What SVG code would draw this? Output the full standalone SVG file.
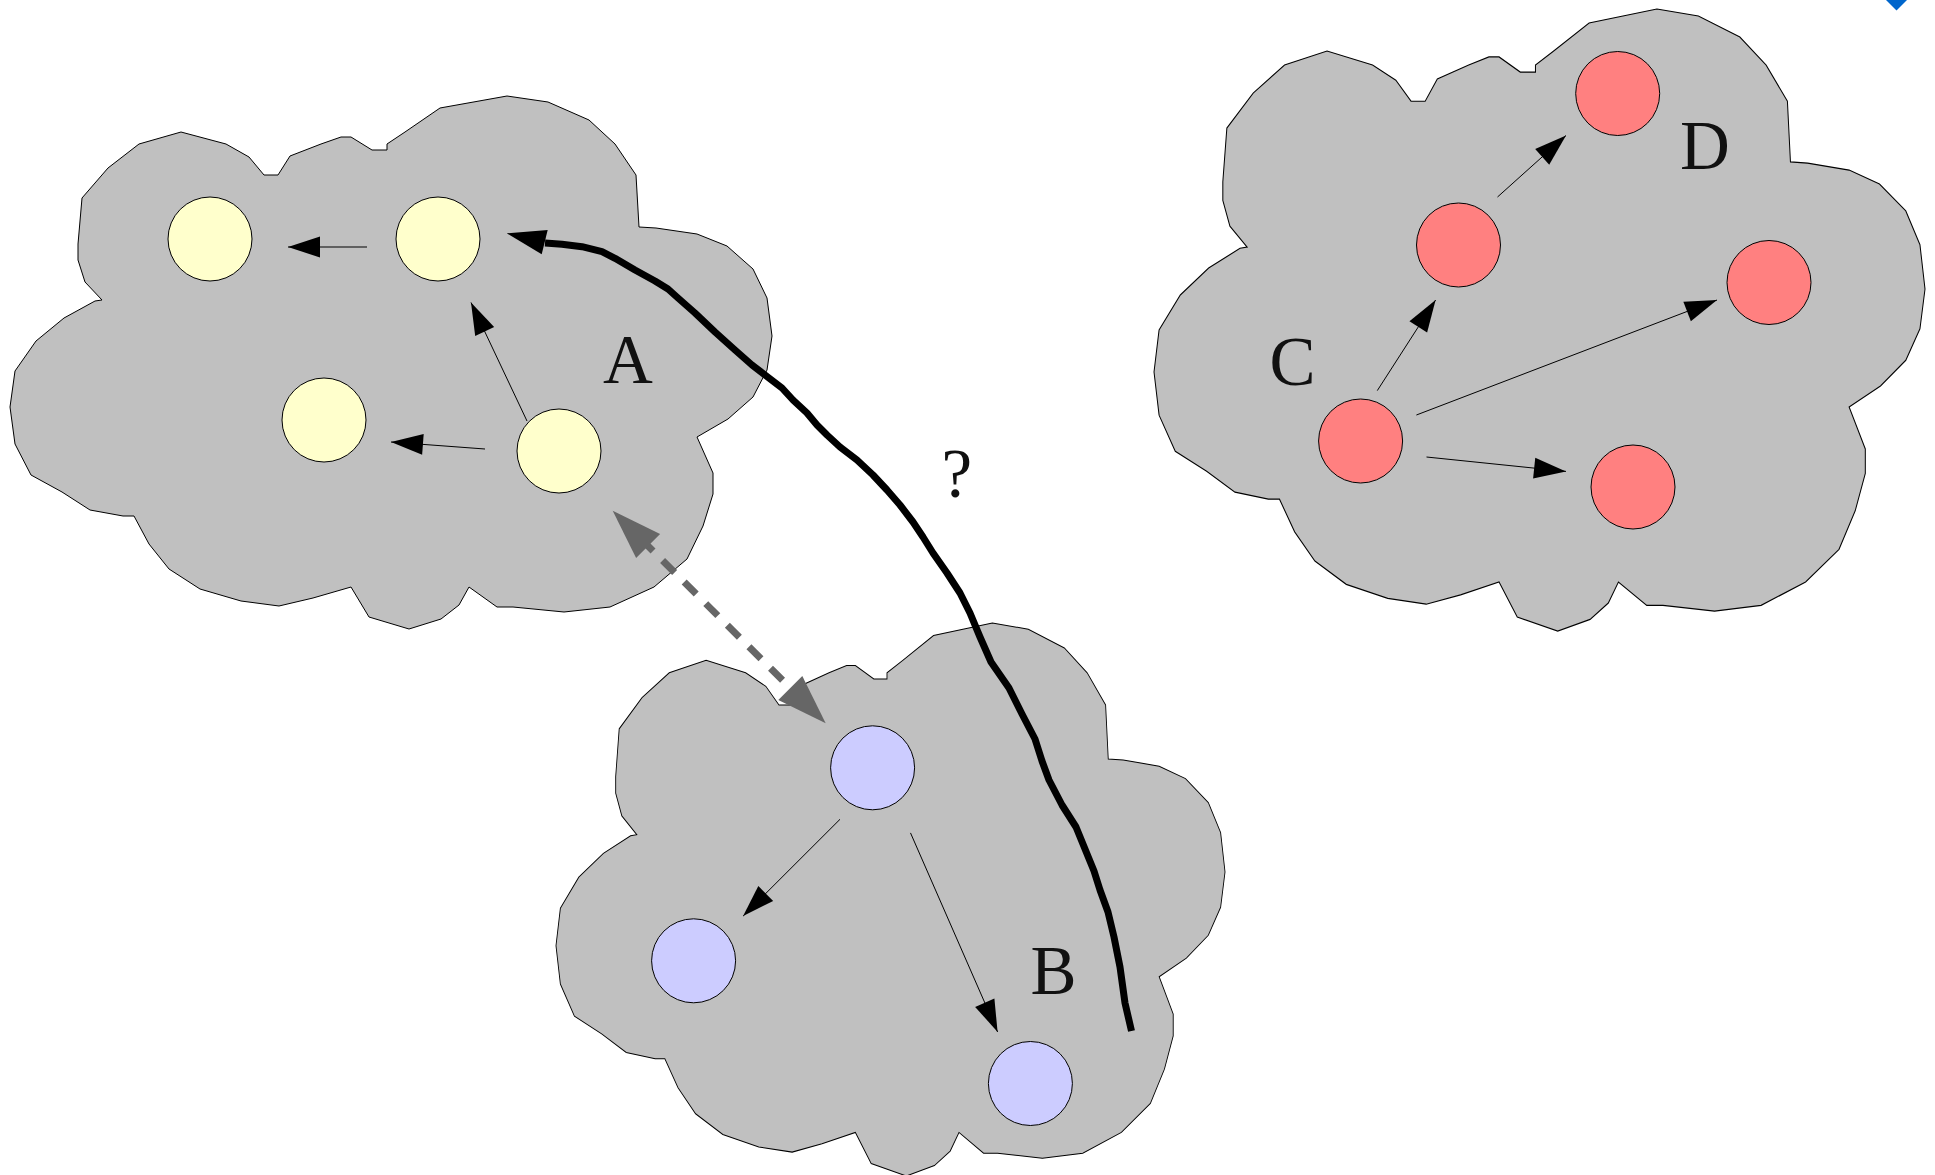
<svg xmlns="http://www.w3.org/2000/svg" width="1935" height="1175" viewBox="0 0 1935 1175">
  <style>
    .cloud { fill: #c0c0c0; stroke: #000000; stroke-width: 1; stroke-linejoin: miter; vector-effect: non-scaling-stroke; }
    .node { stroke: #000000; stroke-width: 1; }
    .na { fill: #ffffcc; }
    .nb { fill: #ccccff; }
    .nc { fill: #ff8080; }
    .edge { fill: none; stroke: #000000; stroke-width: 1; marker-end: url(#arrow); }
    .label { font-family: "Liberation Serif", "Times New Roman", serif; font-size: 69px; fill: #111111; text-anchor: middle; }
  </style>
  <defs>
    <marker id="arrow" markerUnits="userSpaceOnUse" markerWidth="32" markerHeight="21" refX="32" refY="10.5" orient="auto" overflow="visible">
      <path d="M0,0 L32,10.5 L0,21 Z" fill="#000000"/>
    </marker>
    <path id="cloudShape" d="M507,96 L548,102 L589,120 L615,144 L636,175 L639,227 L656,228 L697,234 L727,246 L753,269 L767,298 L772,336 L767,370 L753,397 L728,419 L697,437 L713,473 L713,494 L703,526 L687,559 L654,587 L610,607 L564,612 L513,607 L497,607 L469,587 L459,605 L441,619 L409,629 L369,617 L351,587 L313,598 L279,606 L241,601 L200,589 L169,569 L149,544 L134,516 L123,516 L90,510 L62,492 L31,475 L15,444 L10,407 L15,371 L36,341 L64,318 L95,301 L102,300 L85,282 L78,260 L78,244 L82,198 L108,168 L139,144 L181,132 L226,144 L249,157 L264,175 L278,175 L290,156 L321,144 L341,137 L351,137 L372,150 L387,150 L387,144 L405,132 L440,108 Z"/>
  </defs>

  <rect x="0" y="0" width="1935" height="1175" fill="#ffffff"/>

  <!-- Cloud A -->
  <g id="cloud-A">
    <use href="#cloudShape" class="cloud"/>
    <text class="label" x="628" y="383">A</text>
  </g>
  <!-- Cloud B -->
  <g id="cloud-B">
    <use href="#cloudShape" class="cloud" transform="translate(547.2,523.4) scale(0.878,1.0375)"/>
    <text class="label" x="1053.5" y="994">B</text>
  </g>
  <!-- Cloud C/D -->
  <g id="cloud-CD">
    <use href="#cloudShape" class="cloud" transform="translate(1143.9,-103) scale(1.0118,1.167)"/>
    <text class="label" x="1292.5" y="385">C</text>
    <text class="label" x="1705" y="169">D</text>
  </g>

  <!-- Nodes -->
  <g id="node-a1"><circle class="node na" cx="210" cy="239" r="42"/></g>
  <g id="node-a2"><circle class="node na" cx="438" cy="239" r="42"/></g>
  <g id="node-a3"><circle class="node na" cx="324" cy="420" r="42"/></g>
  <g id="node-a4"><circle class="node na" cx="559" cy="451" r="42"/></g>

  <g id="node-b1"><circle class="node nb" cx="872.6" cy="767.8" r="42"/></g>
  <g id="node-b2"><circle class="node nb" cx="693.6" cy="960.8" r="42"/></g>
  <g id="node-b3"><circle class="node nb" cx="1030.4" cy="1083.5" r="42"/></g>

  <g id="node-c1"><circle class="node nc" cx="1360.6" cy="441" r="42"/></g>
  <g id="node-c2"><circle class="node nc" cx="1458.5" cy="245" r="42"/></g>
  <g id="node-d"><circle class="node nc" cx="1617.7" cy="93.5" r="42"/></g>
  <g id="node-c3"><circle class="node nc" cx="1769" cy="282.5" r="42"/></g>
  <g id="node-c4"><circle class="node nc" cx="1633" cy="487" r="42"/></g>

  <!-- Connectors -->
  <g id="connectors">
    <line class="edge" x1="367" y1="247" x2="288" y2="247"/>
    <line class="edge" x1="527" y1="421" x2="471" y2="302.5"/>
    <line class="edge" x1="485" y1="449" x2="391" y2="442"/>

    <line class="edge" x1="840" y1="819.3" x2="743.1" y2="916.1"/>
    <line class="edge" x1="910.5" y1="832.9" x2="997.6" y2="1032"/>

    <line class="edge" x1="1377.3" y1="390.6" x2="1435.6" y2="300"/>
    <line class="edge" x1="1497.5" y1="197" x2="1566" y2="135.5"/>
    <line class="edge" x1="1416.4" y1="415" x2="1717" y2="300"/>
    <line class="edge" x1="1426.5" y1="457" x2="1566" y2="471.4"/>

    <!-- dashed double-headed gray arrow -->
    <g id="dashed-link">
      <line x1="641" y1="539" x2="798.1" y2="695.8" stroke="#666666" stroke-width="7" stroke-dasharray="17 13.5" fill="none"/>
      <polygon points="612.7,510.7 636.1,558 660.1,534" fill="#666666"/>
      <polygon points="825.7,723.3 778.3,700 802.3,676" fill="#666666"/>
    </g>

    <!-- thick black curve "?" -->
    <g id="curve-link">
      <polyline fill="none" stroke="#000000" stroke-width="7" stroke-linejoin="round" stroke-linecap="butt"
        points="1131.5,1031 1125,1003 1120,967 1114,937 1108,912 1100,890 1094,871 1085,849 1076,827 1062,805 1049,780 1042,761 1035,739 1022,714 1009,688 991,662 980,637 970,613 960,593 947,573 933,553 923,537 913,522 900,505 887,490 873,475 857,460 840,447 827,435 817,425 807,413 793,400 782,388 765,375 752,365 735,350 715,332 695,313 678,298 668,289 655,281 635,270 615,258.3 602,251.7 582,246.7 562,244.3 545,243"/>
      <polygon points="506.7,233.3 547.7,230 541.7,254.3" fill="#000000"/>
    </g>
    <text class="label" x="956.7" y="496.7">?</text>
  </g>

  <polygon points="1886,0 1907,0 1896.5,10.5" fill="#0066cc"/>
</svg>
